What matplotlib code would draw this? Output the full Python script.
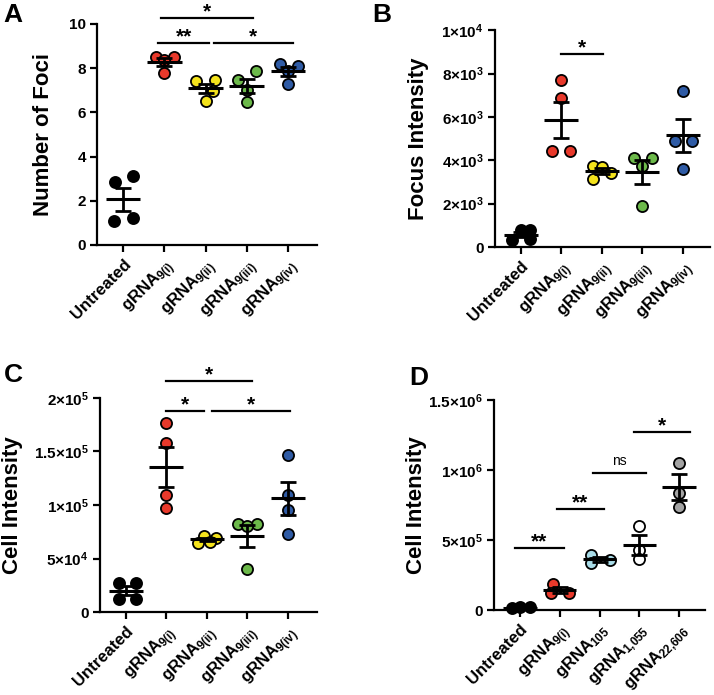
#!/usr/bin/env python
import numpy as np
import matplotlib
matplotlib.use('Agg')
import matplotlib.pyplot as plt

plt.rcParams['font.family'] = ['Liberation Sans', 'DejaVu Sans']
plt.rcParams['font.weight'] = 'bold'
plt.rcParams['mathtext.fontset'] = 'custom'
plt.rcParams['mathtext.rm'] = 'Liberation Sans'
plt.rcParams['mathtext.it'] = 'Liberation Sans'
plt.rcParams['mathtext.bf'] = 'Liberation Sans:bold'

# ---- data ----
labels_9 = ['Untreated', r'gRNA$_{\mathrm{9(i)}}$', r'gRNA$_{\mathrm{9(ii)}}$',
            r'gRNA$_{\mathrm{9(iii)}}$', r'gRNA$_{\mathrm{9(iv)}}$']
labels_d = ['Untreated', r'gRNA$_{\mathrm{9(i)}}$', r'gRNA$_{\mathrm{105}}$',
            r'gRNA$_{\mathrm{1{,}055}}$', r'gRNA$_{\mathrm{22{,}606}}$']

colors_9 = ['black', '#e8392b', '#f4e31c', '#6cb94a', '#2f5ba5']
colors_d = ['black', '#e8392b', '#a9dce8', 'white', '#a3a3a3']

# panel A: number of foci
foci = [
    [2.85, 3.1, 1.1, 1.2],
    [8.5, 8.5, 8.35, 7.8],
    [7.4, 7.45, 6.95, 6.53],
    [7.48, 7.89, 7.0, 6.45],
    [8.19, 8.11, 7.85, 7.3],
]
foci_jit = [
    [-0.2, 0.23, -0.23, 0.23],
    [-0.19, 0.24, 0.0, 0.0],
    [-0.22, 0.23, 0.19, 0.0],
    [-0.22, 0.22, 0.0, 0.0],
    [-0.19, 0.24, 0.0, 0.0],
]

# panel B: focus intensity
focus_int = [
    [780, 770, 320, 380],
    [7690, 6890, 4430, 4430],
    [3740, 3690, 3120, 3415],
    [4110, 4110, 3740, 1880],
    [7200, 4900, 4900, 3600],
]
focus_jit = [
    [0.0, 0.22, -0.22, 0.22],
    [0.0, 0.0, -0.22, 0.22],
    [-0.22, 0.0, -0.22, 0.22],
    [-0.2, 0.24, 0.0, 0.0],
    [0.0, -0.2, 0.23, 0.0],
]

# panel C: cell intensity
cell_int = [
    [27000, 27500, 12500, 12500],
    [177000, 158000, 109600, 97500],
    [71400, 69600, 64900, 65500],
    [82300, 82300, 80400, 40000],
    [147000, 109600, 95700, 73300],
]
cell_jit = [
    [-0.18, 0.25, -0.18, 0.25],
    [0.0, 0.0, 0.0, 0.0],
    [-0.08, 0.23, -0.22, 0.08],
    [-0.24, 0.23, 0.0, 0.0],
    [0.0, 0.0, 0.0, 0.0],
]

# panel D: cell intensity, other guides
cell_int_d = [
    [12000, 19000, 19000],
    [186000, 124000, 119000],
    [393000, 338000, 357000],
    [600000, 430000, 365000],
    [1052000, 838000, 738000],
]
cell_jit_d = [
    [-0.21, 0.0, 0.25],
    [-0.16, -0.23, 0.24],
    [-0.21, -0.21, 0.25],
    [0.0, 0.0, 0.0],
    [0.0, 0.0, 0.0],
]

# significance bars: (x start, x end, height, text)
sig_a = [(0.92, 3.15, 10.27, '*'), (0.85, 2.09, 9.14, '**'), (2.2, 4.12, 9.14, '*')]
sig_b = [(1.0, 2.04, 8890, '*')]
sig_c = [(1.0, 3.11, 215800, '*'), (1.0, 1.92, 187900, '*'), (2.12, 4.05, 187900, '*')]
sig_d = [(-0.13, 1.11, 440000, '**'), (0.94, 2.1, 721000, '**'),
         (1.83, 3.16, 976000, 'ns'), (2.86, 4.26, 1269000, '*')]


def sci(v, exp):
    if v == 0:
        return '0'
    m = v / 10 ** exp
    ms = ('%g' % m)
    return ms + '\u00d710$^{\\mathrm{%d}}$' % exp


def panel(ax, data, jit, colors, labels, sig, ylim, yticks, yticklabels,
          ylabel, xlim, label_x):
    lw = 1.6
    for i, vals in enumerate(data):
        vals = np.array(vals, dtype=float)
        xs = i + np.array(jit[i])
        ax.plot(xs, vals, 'o', ms=8, mfc=colors[i], mec='black', mew=1.3,
                zorder=3, clip_on=False)
        m = vals.mean()
        sem = vals.std(ddof=1) / np.sqrt(len(vals))
        ax.plot([i - 0.42, i + 0.42], [m, m], color='black', lw=2.2, zorder=4,
                solid_capstyle='butt')
        ax.errorbar(i, m, yerr=sem, fmt='none', ecolor='black', elinewidth=2.0,
                    capsize=6, capthick=2.0, zorder=4)
    for x0, x1, y, t in sig:
        ax.plot([x0, x1], [y, y], color='black', lw=lw, clip_on=False)
        if t == 'ns':
            ax.annotate(t, ((x0 + x1) / 2, y), xytext=(0, 6), textcoords='offset points',
                        ha='center', va='baseline', fontsize=10, fontweight='normal',
                        annotation_clip=False)
        else:
            ax.annotate(t, ((x0 + x1) / 2, y), xytext=(0, 0.5), textcoords='offset points',
                        ha='center', va='baseline', fontsize=15, fontweight='bold',
                        annotation_clip=False)
    ax.set_xlim(xlim)
    ax.set_ylim(ylim)
    ax.set_yticks(yticks)
    ax.set_yticklabels(yticklabels, fontsize=11, fontweight='bold')
    ax.set_xticks(range(len(labels)))
    ax.set_xticklabels(labels, fontsize=12, fontweight='bold', rotation=45,
                       ha='right', rotation_mode='anchor')
    ax.spines['top'].set_visible(False)
    ax.spines['right'].set_visible(False)
    for s in ('left', 'bottom'):
        ax.spines[s].set_linewidth(1.6)
    ax.tick_params(width=1.6, length=5, pad=3)
    ax.set_ylabel(ylabel, fontsize=16, fontweight='bold')
    ax.yaxis.set_label_coords(label_x, 0.5)


def main():
    fig = plt.figure(figsize=(7.14, 6.95), dpi=100)

    ax_a = fig.add_axes([0.1359, 0.6475, 0.308, 0.318])
    ax_b = fig.add_axes([0.693, 0.6446, 0.301, 0.312])
    ax_c = fig.add_axes([0.140, 0.1194, 0.304, 0.308])
    ax_d = fig.add_axes([0.692, 0.1223, 0.2955, 0.302])

    panel(ax_a, foci, foci_jit, colors_9, labels_9, sig_a, (0, 10),
          [0, 2, 4, 6, 8, 10], ['0', '2', '4', '6', '8', '10'],
          'Number of Foci', (-0.63, 4.7), -0.195)

    b_ticks = [0, 2000, 4000, 6000, 8000, 10000]
    panel(ax_b, focus_int, focus_jit, colors_9, labels_9, sig_b, (0, 10000),
          b_ticks, ['0'] + [sci(v, 3) for v in b_ticks[1:-1]] + [sci(10000, 4)],
          'Focus Intensity', (-0.64, 4.67), -0.307)

    c_ticks = [0, 50000, 100000, 150000, 200000]
    panel(ax_c, cell_int, cell_jit, colors_9, labels_9, sig_c, (0, 200000),
          c_ticks, ['0', sci(50000, 4), sci(100000, 5), sci(150000, 5), sci(200000, 5)],
          'Cell Intensity', (-0.64, 4.72), -0.355)

    d_ticks = [0, 500000, 1000000, 1500000]
    panel(ax_d, cell_int_d, cell_jit_d, colors_d, labels_d, sig_d, (0, 1500000),
          d_ticks, ['0', sci(500000, 5), sci(1000000, 6), sci(1500000, 6)],
          'Cell Intensity', (-0.65, 4.65), -0.318)

    for txt, x, y in [('A', 0.005, 0.995), ('B', 0.522, 0.995),
                      ('C', 0.005, 0.477), ('D', 0.573, 0.473)]:
        fig.text(x, y, txt, fontsize=19, fontweight='bold', ha='left', va='top')

    fig.savefig('out.png', dpi=100)


if __name__ == '__main__':
    main()
